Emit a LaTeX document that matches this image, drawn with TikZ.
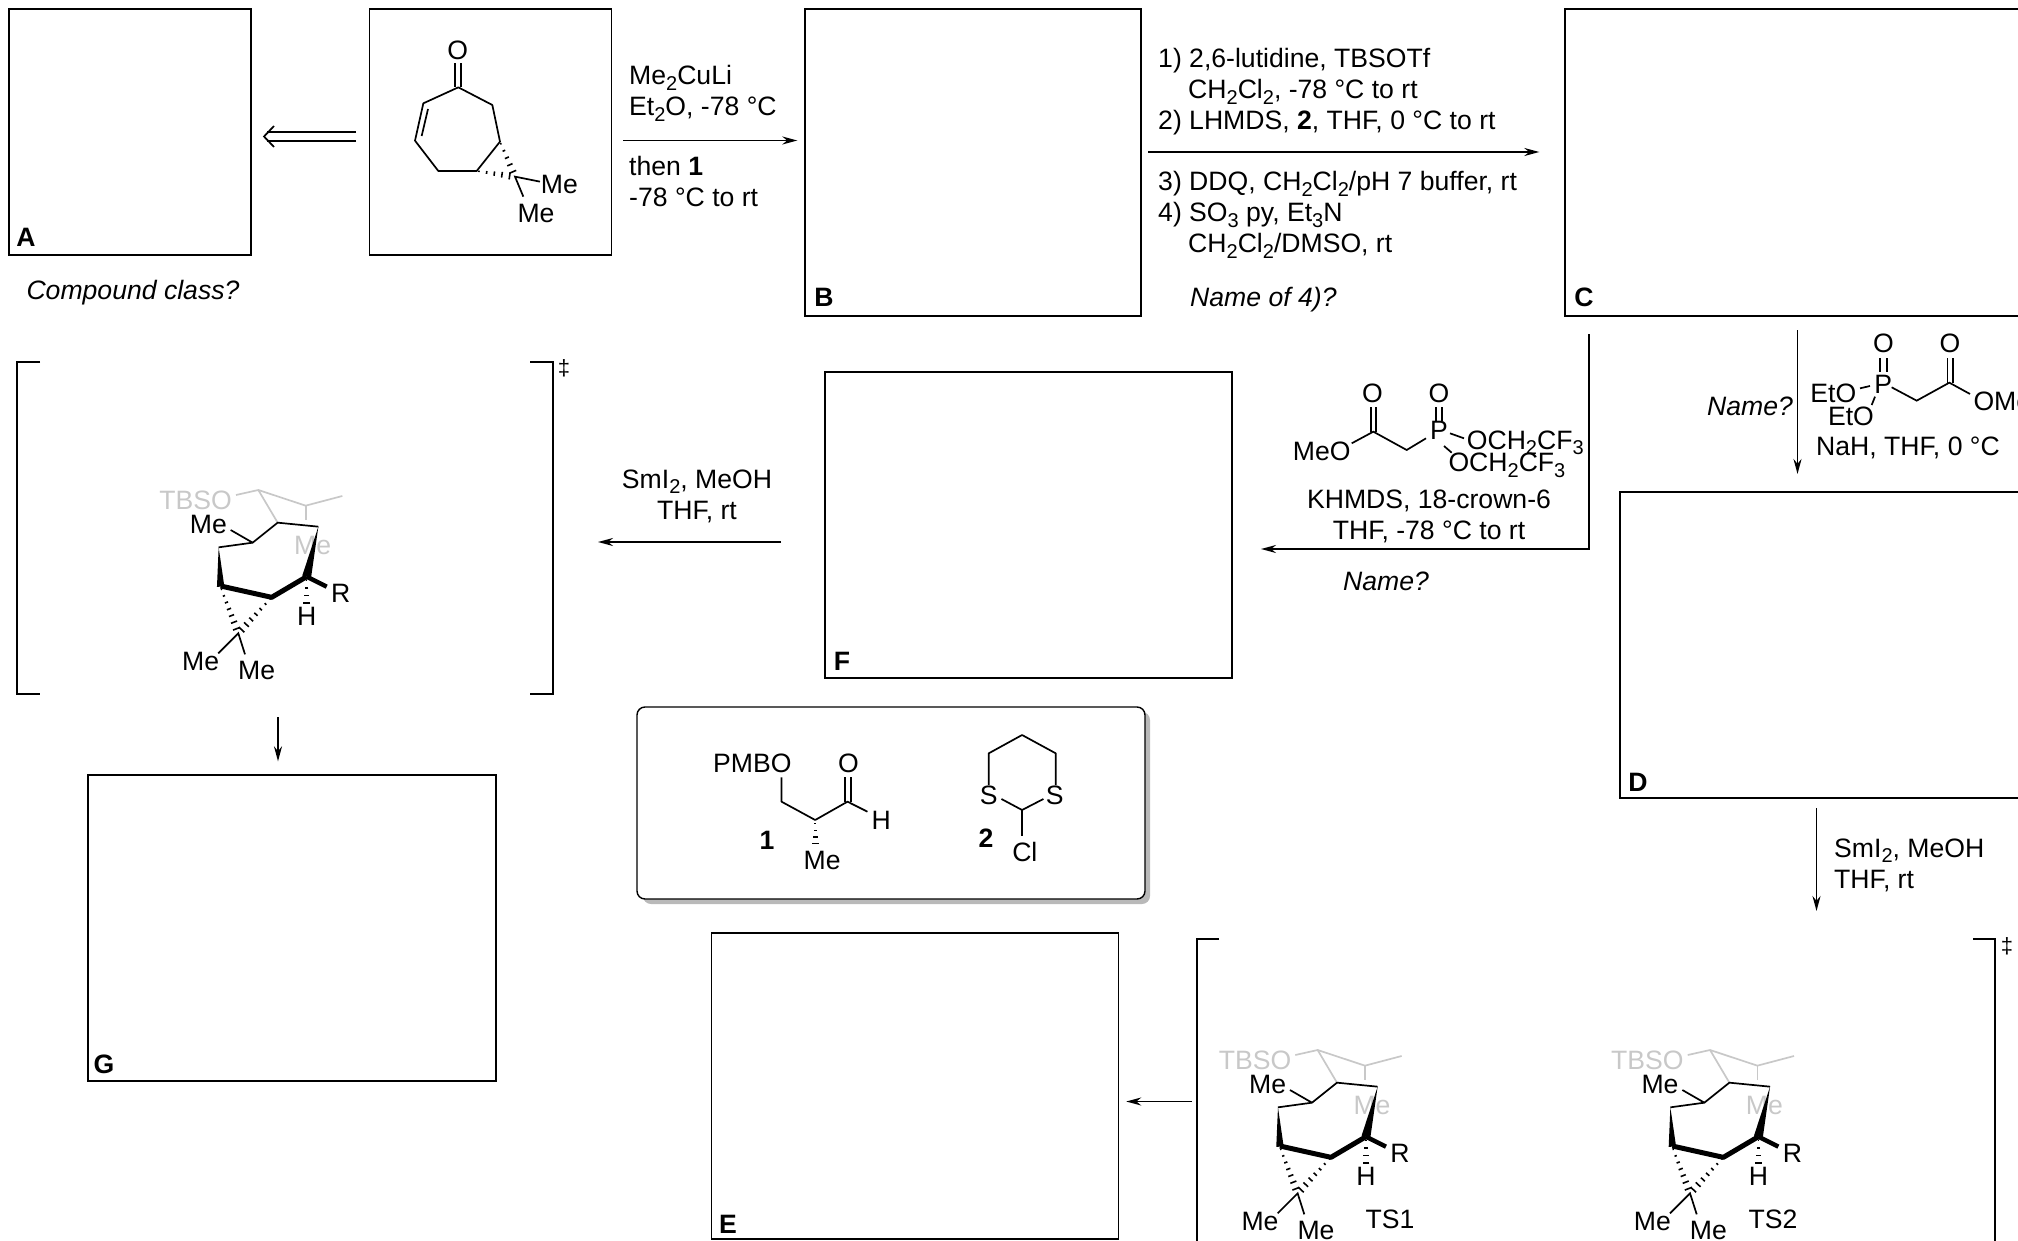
\documentclass[tikz,border=0pt]{standalone}
\usepackage{fontspec}
\setmainfont{Liberation Sans}
\usetikzlibrary{calc,arrows.meta}

\tikzset{
  ansbox/.style={draw,line width=1.4pt,rectangle,inner sep=0pt},
  rxn/.style={line width=1.9pt,-{Stealth[length=15pt,width=8pt]}},
  bond/.style={line width=1.7pt},
  boldbond/.style={line width=5pt},
  faint/.style={line width=1.7pt,draw=fade},
  atm/.style={inner sep=0pt},
  txtc/.style={inner sep=0pt,anchor=base},
  txtl/.style={inner sep=0pt,anchor=base west},
  mol/.style={x=0.33333pt,y=-0.33333pt}
}
\definecolor{fade}{HTML}{C8C8C8}
\newcommand{\low}[1]{\raisebox{-0.22em}{\fontsize{20}{20}\selectfont #1}}
\newcommand{\hashbond}[3][5]{%
  \foreach \k in {1,...,#1} {
    \pgfmathsetmacro\fr{(\k-0.7)/#1}
    \pgfmathsetmacro\hw{0.5+3.6*\fr}
    \path (#2) -- (#3) coordinate [pos=\fr] (hh);
    \draw [line width=1.6pt] ($(hh)!\hw pt!90:(#3)$) -- ($(hh)!\hw pt!-90:(#3)$);
  }}
\newcommand{\wedgebond}[3]{%
  \fill (#1) -- ($(#2)!#3!90:(#1)$) -- ($(#2)!#3!-90:(#1)$) -- cycle;}

% transition state drawing, numbers read off at 3x
\newcommand{\tsmol}[2]{%
\begin{scope}[shift={(#1,#2)},mol]
\node [atm,text=fade] (tbso) at (197,122) {TBSO};
\node [atm,text=fade] (mefade) at (548,255) {Me};
\draw [faint] (318,105)--(385,90)--(527,137)--(637,108);
\draw [faint] (385,90)--(443,188);
\draw [faint] (527,137)--(527,180);
\draw [bond,line join=round] (565,200)--(443,188)--(368,248)--(266,262);
\draw [bond] (368,248)--(302,210);
\node [atm] (metop) at (235,193) {Me};
\wedgebond{266,262}{272,380}{3.7pt}
\wedgebond{565,200}{530,350}{4.5pt}
\draw [boldbond,line join=round] (272,378)--(425,412)--(530,350);
\draw [boldbond,line width=4.5pt] (530,350)--(590,380);
\node [atm] (rgrp) at (632,400) {R};
\hashbond[4]{530,355}{530,445}
\node [atm] (hatom) at (530,470) {H};
\hashbond[7]{272,382}{325,520}
\hashbond[7]{425,412}{325,520}
\draw [bond] (265,580)--(325,520)--(345,583);
\node [atm] (mea) at (212,605) {Me};
\node [atm] (meb) at (380,632) {Me};
\end{scope}}

\begin{document}
\fontsize{26.6}{31}\selectfont
\begin{tikzpicture}[x=1pt,y=-1pt]

\clip (0,0) rectangle (2018,1241);

% answer boxes
\node [ansbox,minimum width=242pt,minimum height=246pt] (boxa) at (130,132) {};
\node [ansbox,minimum width=242pt,minimum height=246pt] (boxk) at (490.5,132) {};
\node [ansbox,minimum width=336pt,minimum height=307pt] (boxb) at (973,162.5) {};
\node [ansbox,minimum width=500pt,minimum height=307pt] (boxc) at (1815,162.5) {};
\node [ansbox,minimum width=407pt,minimum height=306pt] (boxf) at (1028.5,525) {};
\node [ansbox,minimum width=500pt,minimum height=306pt] (boxd) at (1870,645) {};
\node [ansbox,minimum width=408pt,minimum height=306pt] (boxg) at (292,928) {};
\node [ansbox,minimum width=407pt,minimum height=306pt] (boxe) at (915,1086) {};

\node [txtc,font=\bfseries] (laba) at (26,247) {A};
\node [txtc,font=\bfseries] (labb) at (824,306) {B};
\node [txtc,font=\bfseries] (labc) at (1584,306) {C};
\node [txtc,font=\bfseries] (labf) at (842,670) {F};
\node [txtc,font=\bfseries] (labd) at (1638,791) {D};
\node [txtc,font=\bfseries] (labg) at (104,1073) {G};
\node [txtc,font=\bfseries] (labe) at (728,1233) {E};

\node [txtc,font=\itshape] (qclass) at (133,299) {Compound class?};

% retro arrow
\draw [bond] (356,132)--(267,132);
\draw [bond] (356,141)--(267,141);
\draw [bond] (274,126)--(264,136.5)--(274,147);

% enone in box
\begin{scope}[shift={(360,0)},mol]
\node [atm] (okt) at (293,150) {O};
\draw [bond] (286,190)--(286,262);
\draw [bond] (302,190)--(302,262);
\draw [bond,line join=round] (295,262)--(190,310)--(165,422)--(235,513)--(350,513)--(420,425)--(397,315)--cycle;
\draw [bond] (204,327)--(185,408);
\hashbond[5]{350,513}{465,530}
\hashbond[5]{420,425}{465,530}
\draw [bond] (540,545)--(465,530)--(490,590);
\node [atm] (mek1) at (598,553) {Me};
\node [atm] (mek2) at (528,640) {Me};
\end{scope}

% first step
\node [txtl] (r1a) at (629,84.5) {Me\low{2}CuLi};
\node [txtl] (r1b) at (629,115.5) {Et\low{2}O, -78 °C};
\node [txtl] (r1c) at (629,176) {then \textbf{1}};
\node [txtl] (r1d) at (629,207) {-78 °C to rt};
\coordinate (st1) at (623,140.5);
\draw [rxn,shorten >=7pt] (st1)--(st1 -| boxb.west);

% second step
\node [txtl] (r2a) at (1158,68) {1) 2,6-lutidine, TBSOTf};
\node [txtl] (r2b) at (1188,99) {CH\low{2}Cl\low{2}, -78 °C to rt};
\node [txtl] (r2c) at (1158,130) {2) LHMDS, \textbf{2}, THF, 0 °C to rt};
\node [txtl] (r2d) at (1158,191) {3) DDQ, CH\low{2}Cl\low{2}/pH 7 buffer, rt};
\node [txtl] (r2e) at (1158,222) {4) SO\low{3} py, Et\low{3}N};
\node [txtl] (r2f) at (1188,253) {CH\low{2}Cl\low{2}/DMSO, rt};
\node [txtl,font=\itshape] (r2g) at (1190,306) {Name of 4)?};
\coordinate (st2) at (1148,152);
\draw [rxn,shorten >=25pt] (st2)--(st2 -| boxc.west);

% from C to F
\coordinate (st3) at (1589,334);
\coordinate (cn3) at (1589,549);
\draw [rxn,line join=miter] (st3)--(cn3)--(1261,549);
\begin{scope}[shift={(1270,350)},mol]
\node [atm] (op1) at (307,130) {O};
\node [atm] (op2) at (507,130) {O};
\node [atm] (meo) at (155,303) {MeO};
\node [atm] (pa) at (507,240) {P};
\draw [bond] (245,280)--(310,245)--(410,300)--(468,265);
\draw [bond] (302,245)--(302,172);
\draw [bond] (318,245)--(318,172);
\draw [bond] (499,212)--(499,172);
\draw [bond] (517,212)--(517,172);
\draw [bond] (540,250)--(582,265);
\draw [bond] (522,288)--(545,308);
\node [txtl] (ocf1) at (590,297) {OCH\low{2}CF\low{3}};
\node [txtl] (ocf2) at (535,365) {OCH\low{2}CF\low{3}};
\end{scope}
\node [txtc] (r3a) at (1429,508) {KHMDS, 18-crown-6};
\node [txtc] (r3b) at (1429,539) {THF, -78 °C to rt};
\node [txtc,font=\itshape] (r3c) at (1386,590) {Name?};

% from C to D
\coordinate (st4) at (1797.5,330);
\draw [rxn] (st4)--(1797.5,474);
\node [txtc,font=\itshape] (r4c) at (1750,415) {Name?};
\begin{scope}[shift={(1690,310)},mol]
\node [atm] (op3) at (580,100) {O};
\node [atm] (op4) at (780,100) {O};
\node [atm] (pb) at (580,222) {P};
\node [atm] (eta) at (430,250) {EtO};
\node [atm] (etb) at (483,320) {EtO};
\node [atm,anchor=west] (ome) at (850,275) {OMe};
\draw [bond] (570,185)--(570,145);
\draw [bond] (590,185)--(590,145);
\draw [bond] (605,232)--(680,272)--(778,218)--(840,252);
\draw [bond] (772,218)--(772,145);
\draw [bond] (788,218)--(788,145);
\draw [bond] (510,235)--(540,228);
\draw [bond] (545,285)--(555,260);
\end{scope}
\node [txtc] (r4a) at (1908,455) {NaH, THF, 0 °C};

% from D to bracket
\coordinate (st5) at (1816.5,808);
\draw [rxn] (st5)--(1816.5,911);
\node [txtl] (r5a) at (1834,857) {SmI\low{2}, MeOH};
\node [txtl] (r5b) at (1834,888) {THF, rt};

% from F to left bracket
\coordinate (st6) at (781,542);
\draw [rxn] (st6)--(598,542);
\node [txtc] (r6a) at (697,488) {SmI\low{2}, MeOH};
\node [txtc] (r6b) at (697,519) {THF, rt};

% brackets
\draw [bond] (40,362)--(17,362)--(17,694)--(40,694);
\draw [bond] (530,362)--(553,362)--(553,694)--(530,694);
\node [atm,font=\fontsize{22}{22}\selectfont] (dga) at (564,368) {‡};
\draw [bond] (1219,939)--(1197,939)--(1197,1250);
\draw [bond] (1973,939)--(1995,939)--(1995,1250);
\node [atm,font=\fontsize{22}{22}\selectfont] (dgb) at (2007,946) {‡};

\tsmol{130}{460}
\tsmol{1189.3}{1020}
\tsmol{1581.7}{1020}
\node [atm] (tsa) at (1390,1219) {TS1};
\node [atm] (tsb) at (1773,1219) {TS2};

% down to G, left to E
\coordinate (st7) at (278,717);
\draw [rxn,shorten >=13pt] (st7)--(st7 |- boxg.north);
\coordinate (st8) at (1192,1101.5);
\draw [rxn,shorten >=7pt] (st8)--(st8 -| boxe.east);

% box with compounds 1 and 2
\fill [gray!55,rounded corners=8pt] (643,712) rectangle (1150,904);
\node [draw,line width=1.4pt,fill=white,rounded corners=8pt,inner sep=0pt,minimum width=508pt,minimum height=192pt] (boxr) at (891,803) {};
\begin{scope}[shift={(620,690)},mol,x=0.34364pt]
\node [atm] (pmbo) at (385,220) {PMBO};
\node [atm] (oald) at (665,220) {O};
\node [atm] (hald) at (760,392) {H};
\node [atm] (meald) at (588,510) {Me};
\node [atm,font=\bfseries] (no1) at (428,450) {1};
\draw [bond,line join=round] (470,262)--(470,335)--(568,390)--(662,335)--(720,365);
\draw [bond] (655,335)--(655,260);
\draw [bond] (672,335)--(672,260);
\hashbond[4]{568,395}{568,475}
\node [atm,font=\bfseries] (no2) at (1065,445) {2};
\node [atm] (sa) at (1073,315) {S};
\node [atm] (sb) at (1265,315) {S};
\node [atm] (cl) at (1178,485) {Cl};
\draw [bond,line join=round] (1073,285)--(1073,190)--(1170,135)--(1268,190)--(1268,285);
\draw [bond,line join=round] (1110,327)--(1170,360)--(1232,327);
\draw [bond] (1170,360)--(1170,438);
\end{scope}

\end{tikzpicture}
\end{document}
